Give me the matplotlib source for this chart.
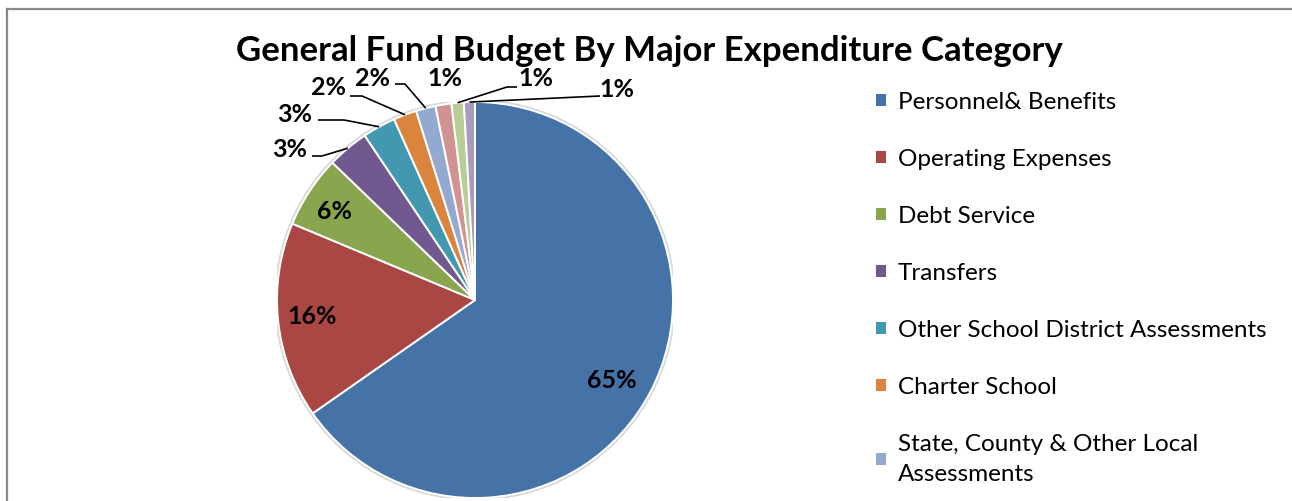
import numpy as np
import matplotlib
matplotlib.use("Agg")
import matplotlib.pyplot as plt
from matplotlib.lines import Line2D
from matplotlib.patches import Circle

plt.rcParams['font.family'] = ['Lato', 'DejaVu Sans']

# General fund budget shares (%), clockwise from 12 o'clock
categories = [
    'Personnel& Benefits',
    'Operating Expenses',
    'Debt Service',
    'Transfers',
    'Other School District Assessments',
    'Charter School',
    'State, County & Other Local\nAssessments',
    'Capital Outlay',
    'Contingency',
    'Other',
]
shares = [65.3, 16.0, 5.9, 3.4, 2.7, 1.9, 1.6, 1.3, 1.0, 0.9]
colors = ['#4572A7', '#AA4643', '#89A54E', '#71588F', '#4198AF',
          '#DB843D', '#93A9CF', '#D19392', '#B9CD96', '#A99BBD']
legend_count = 7  # entries that fit in the legend box

W, H = 1292, 501
fig = plt.figure(figsize=(W / 100, H / 100), dpi=100)

# pie placed by pixel centre / radius
cx, cy, r = 475, 300, 198
ax = fig.add_axes([(cx - r) / W, (H - cy - r) / H, 2 * r / W, 2 * r / H])

def px(x, y):
    """pixel position -> pie data coords"""
    return (x - cx) / r, (cy - y) / r

ax.add_patch(Circle((0, 0), 1.01, color='#d8d8d8', zorder=0))
wedges, _ = ax.pie(shares, colors=colors, startangle=90, counterclock=False,
                   radius=1.0,
                   wedgeprops=dict(edgecolor='white', linewidth=1.4))
ax.set_xlim(-1, 1)
ax.set_ylim(-1, 1)
ax.set_aspect('equal')
ax.axis('off')

lab_kw = dict(fontsize=18, fontweight='bold', ha='center', va='center', color='black')

# labels inside the three big slices
inside = {0: (612, 380), 1: (312, 317), 2: (335, 212)}
for i, (x, y) in inside.items():
    ax.text(*px(x, y), f'{shares[i]:.0f}%', **lab_kw)

# outside labels with leader lines: text position, elbow points (pixels)
outside = {
    3: ((290, 150), [(312, 156), (322, 156)]),
    4: ((295, 115), [(318, 120), (344, 120)]),
    5: ((329, 88), [(350, 96), (362, 96)]),
    6: ((372, 78), [(395, 84), (405, 84)]),
    7: ((445, 79), []),
    8: ((536, 79), [(517, 87), (507, 87)]),
    9: ((617, 90), [(600, 96)]),
}
for i, (tpos, elbow) in outside.items():
    ax.text(*px(*tpos), f'{shares[i]:.0f}%', **lab_kw)
    if elbow:
        w = wedges[i]
        mid = np.deg2rad((w.theta1 + w.theta2) / 2)
        pts = [px(*p) for p in elbow] + [(np.cos(mid), np.sin(mid))]
        xs, ys = zip(*pts)
        ax.plot(xs, ys, color='black', lw=1.2, clip_on=False,
                solid_capstyle='butt')

fig.text(649 / W, (H - 51) / H, 'General Fund Budget By Major Expenditure Category',
         fontsize=25, fontweight='bold', ha='center', va='center')

leg = fig.legend(wedges[:legend_count], categories[:legend_count],
                 loc='upper left', bbox_to_anchor=(865 / W, (H - 82) / H),
                 frameon=False, fontsize=17.5, handlelength=0.5, handleheight=0.5,
                 handletextpad=0.45, labelspacing=1.48, borderaxespad=0)
leg.get_texts()[6].set_linespacing(1.55)

# chart frame (only top and left edges fall inside the image)
fig.add_artist(Line2D([7 / W, 1], [(H - 8.5) / H] * 2, color='#888888', lw=1.6,
                      transform=fig.transFigure))
fig.add_artist(Line2D([7 / W] * 2, [0, (H - 8.5) / H], color='#888888', lw=1.6,
                      transform=fig.transFigure))

fig.savefig('out.png', dpi=100)
